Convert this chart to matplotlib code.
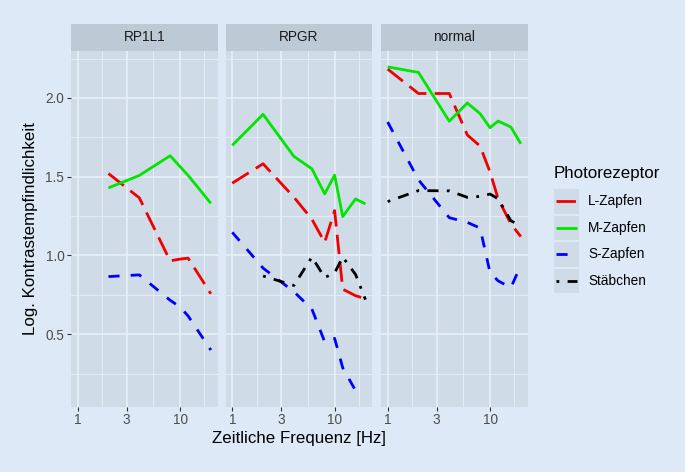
import numpy as np
import matplotlib
matplotlib.use("Agg")
import matplotlib.pyplot as plt

plt.rcParams['font.family'] = ['Liberation Sans', 'DejaVu Sans']

# ---------------- data ----------------
panels = ['RP1L1', 'RPGR', 'normal']
receptors = ['L-Zapfen', 'M-Zapfen', 'S-Zapfen', 'Stäbchen']
colors = ['#f00000', '#00e600', '#0000ff', '#000000']

x_breaks = [1, 3, 10]
x_labels = ['1', '3', '10']
y_breaks = [0.5, 1.0, 1.5, 2.0]
y_labels = ['0.5', '1.0', '1.5', '2.0']

# RP1L1
rp1l1_L_f = [2, 4, 8, 10, 12, 20]
rp1l1_L_v = [1.52, 1.366, 0.966, 0.977, 0.983, 0.757]
rp1l1_M_f = [2, 4, 8, 12, 20]
rp1l1_M_v = [1.429, 1.508, 1.633, 1.508, 1.331]
rp1l1_S_f = [2, 4, 8, 10, 12, 20]
rp1l1_S_v = [0.866, 0.877, 0.716, 0.673, 0.616, 0.40]

# RPGR
rpgr_L_f = [1, 2, 4, 6, 8, 10, 12, 16, 20]
rpgr_L_v = [1.459, 1.582, 1.37, 1.23, 1.083, 1.285, 0.786, 0.745, 0.725]
rpgr_M_f = [1, 2, 4, 6, 8, 10, 12, 16, 20]
rpgr_M_v = [1.699, 1.896, 1.629, 1.55, 1.391, 1.510, 1.247, 1.359, 1.327]
rpgr_S_f = [1, 2, 4, 6, 8, 10, 12, 16]
rpgr_S_v = [1.147, 0.92, 0.77, 0.66, 0.452, 0.474, 0.287, 0.143]
rpgr_R_f = [2, 4, 6, 8, 10, 12, 16, 20]
rpgr_R_v = [0.87, 0.81, 0.99, 0.86, 0.89, 0.99, 0.88, 0.72]

# normal
normal_L_f = [1, 2, 4, 6, 8, 10, 12, 16, 20]
normal_L_v = [2.183, 2.028, 2.028, 1.765, 1.694, 1.53, 1.36, 1.20, 1.12]
normal_M_f = [1, 2, 4, 6, 8, 10, 12, 16, 20]
normal_M_v = [2.197, 2.162, 1.852, 1.968, 1.90, 1.811, 1.853, 1.815, 1.709]
normal_S_f = [1, 2, 4, 6, 8, 10, 12, 16, 20]
normal_S_v = [1.847, 1.48, 1.24, 1.21, 1.174, 0.892, 0.839, 0.796, 0.939]
normal_R_f = [1, 2, 4, 6, 8, 10, 12, 16, 20]
normal_R_v = [1.342, 1.412, 1.41, 1.369, 1.375, 1.39, 1.36, 1.22, 1.189]

series = {
    'RP1L1': [(rp1l1_L_f, rp1l1_L_v), (rp1l1_M_f, rp1l1_M_v), (rp1l1_S_f, rp1l1_S_v), None],
    'RPGR': [(rpgr_L_f, rpgr_L_v), (rpgr_M_f, rpgr_M_v), (rpgr_S_f, rpgr_S_v), (rpgr_R_f, rpgr_R_v)],
    'normal': [(normal_L_f, normal_L_v), (normal_M_f, normal_M_v), (normal_S_f, normal_S_v), (normal_R_f, normal_R_v)],
}

# ---------------- style ----------------
W, H = 685, 472
fig_bg = '#dde9f6'
panel_bg = '#cfdbe6'
strip_bg = '#bdc9d5'
grid_col = '#e8f0f8'
LW = 2.0
styles = [(0, (7, 3)), '-', (0, (4, 4)), (0, (1, 3, 4, 3))]
TICK_FS = 9.8
TITLE_FS = 12.2
LEG_FS = 9.8

fig = plt.figure(figsize=(W / 100, H / 100), dpi=100, facecolor=fig_bg)


def fbox(x0, y0, x1, y1):
    return [x0 / W, 1 - y1 / H, (x1 - x0) / W, (y1 - y0) / H]


# scale limits (ggplot-like expansion)
all_f = [f for p in panels for s in series[p] if s for f in s[0]]
all_v = [v for p in panels for s in series[p] if s for v in s[1]]
lx0, lx1 = np.log10(min(all_f)), np.log10(max(all_f))
ex = 0.05 * (lx1 - lx0)
xlim = (10 ** (lx0 - ex), 10 ** (lx1 + ex))
ey = 0.05 * (max(all_v) - min(all_v))
ylim = (min(all_v) - ey, max(all_v) + ey)

lb = np.log10(x_breaks)
d = lb[1] - lb[0]
ext = np.concatenate([[lb[0] - d], lb, [lb[-1] + d]])
x_minor = 10 ** ((ext[:-1] + ext[1:]) / 2)
y_minor = [0.25, 0.75, 1.25, 1.75, 2.25]

lefts = [71, 225.6, 381]
pw = 146.5
ptop, pbot = 50.7, 406.7
stop = 24

for i, p in enumerate(panels):
    x0 = lefts[i]
    ax = fig.add_axes(fbox(x0, ptop, x0 + pw, pbot))
    ax.set_facecolor(panel_bg)
    ax.set_xscale('log')
    ax.set_xlim(*xlim)
    ax.set_ylim(*ylim)
    for s in ax.spines.values():
        s.set_visible(False)
    for xm in x_minor:
        ax.axvline(xm, color=grid_col, lw=0.6, zorder=0.5)
    for ym in y_minor:
        ax.axhline(ym, color=grid_col, lw=0.6, zorder=0.5)
    for xb in x_breaks:
        ax.axvline(xb, color=grid_col, lw=1.2, zorder=0.6)
    for yb in y_breaks:
        ax.axhline(yb, color=grid_col, lw=1.2, zorder=0.6)
    ax.set_xticks(x_breaks)
    ax.set_xticklabels(x_labels)
    ax.set_xticks([], minor=True)
    ax.set_yticks(y_breaks)
    if i == 0:
        ax.set_yticklabels(y_labels)
        ax.tick_params(axis='y', length=2.8, width=0.8, color='#333333',
                       labelsize=TICK_FS, labelcolor='#4d4d4d', pad=2)
    else:
        ax.tick_params(axis='y', length=0, labelleft=False)
    ax.tick_params(axis='x', length=2.8, width=0.8, color='#333333',
                   labelsize=TICK_FS, labelcolor='#4d4d4d', pad=2)
    ax.tick_params(which='minor', length=0)
    for k, s in enumerate(series[p]):
        if s is None:
            continue
        ax.plot(s[0], s[1], color=colors[k], lw=LW, ls=styles[k],
                dash_capstyle='butt', solid_capstyle='butt', zorder=2 + k)
    # strip
    sax = fig.add_axes(fbox(x0, stop, x0 + pw, ptop))
    sax.set_facecolor(strip_bg)
    sax.set_xticks([])
    sax.set_yticks([])
    for s in sax.spines.values():
        s.set_visible(False)
    sax.text(0.5, 0.5, p, ha='center', va='center', fontsize=TICK_FS,
             color='#1a1a1a', transform=sax.transAxes)

# axis titles
fig.text((lefts[0] + lefts[2] + pw) / 2 / W, 1 - 439 / H, 'Zeitliche Frequenz [Hz]',
         ha='center', va='center', fontsize=TITLE_FS, color='black')
fig.text(31 / W, 1 - (ptop + pbot) / 2 / H, 'Log. Kontrastempfindlichkeit',
         ha='center', va='center', rotation=90, fontsize=TITLE_FS, color='black')

# legend
fig.text(554 / W, 1 - 178.5 / H, 'Photorezeptor', ha='left', va='baseline',
         fontsize=TITLE_FS, color='black')
key_tops = [189, 215.5, 242, 268.5]
for k, r in enumerate(receptors):
    kt = key_tops[k]
    kax = fig.add_axes(fbox(554, kt, 579, kt + 24.5))
    kax.set_facecolor(panel_bg)
    kax.set_xlim(0, 1)
    kax.set_ylim(0, 1)
    kax.set_xticks([])
    kax.set_yticks([])
    for s in kax.spines.values():
        s.set_visible(False)
    kax.plot([0.09, 0.91], [0.5, 0.5], color=colors[k], lw=LW, ls=styles[k],
             dash_capstyle='butt', solid_capstyle='butt')
    fig.text(588 / W, 1 - (kt + 12.25) / H, r, ha='left', va='center',
             fontsize=LEG_FS, color='black')

fig.savefig('out.png', dpi=100, facecolor=fig_bg)
